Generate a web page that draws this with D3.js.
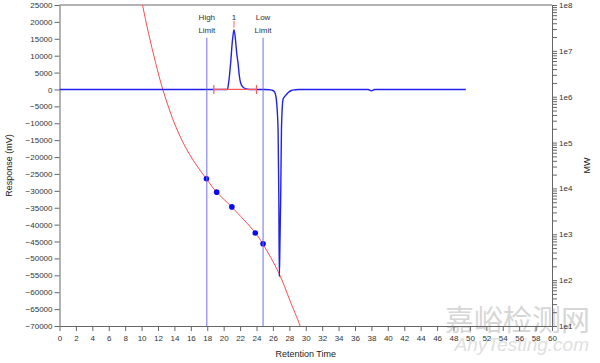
<!DOCTYPE html>
<html>
<head>
<meta charset="utf-8">
<script src="https://cdn.jsdelivr.net/npm/d3@7"></script>
<style>
  body { margin: 0; background: #fff; }
  svg { display: block; font-family: "Liberation Sans", Arial, sans-serif; }
  .axis text { fill: #333; font-size: 8px; }
  .axis path, .axis line { stroke: #666; }
</style>
</head>
<body>
<div id="svg-container"></div>
<script>
////////////////////////////////////////////////////////////////////
//////////////////////////////  Data  ///////////////////////////////
const xTickValues = [0, 2, 4, 6, 8, 10, 12, 14, 16, 18, 20, 22, 24, 26, 28, 30,
  32, 34, 36, 38, 40, 42, 44, 46, 48, 50, 52, 54, 56, 58, 60];
const yTickValues = [25000, 20000, 15000, 10000, 5000, 0, -5000, -10000, -15000,
  -20000, -25000, -30000, -35000, -40000, -45000, -50000, -55000, -60000, -65000, -70000];

// chromatogram (retention time, mV)
const traceTime = [0, 18.8, 20.45, 20.6, 20.85, 21.05, 21.26, 21.45, 21.6, 21.75, 21.9, 22.07,
  22.35, 22.77, 23.5, 25.0, 25.6, 26.0, 26.2, 26.42, 26.63, 26.72, 26.78, 26.86, 26.95, 27.04,
  27.23, 27.4, 27.64, 27.9, 28.25, 28.7, 29.2, 37.6, 38.0, 38.4, 49.5];
const traceResp = [0, 0, 0, 1900, 7850, 14000, 17700, 14500, 10500, 7850, 4200, 1900,
  700, 150, 0, 0, -100, -300, -700, -3000, -11900, -31700, -55400, -45000, -31700, -11900,
  -3000, -2200, -1500, -800, -300, -100, 0, 0, -400, 0, 0];

// calibration curve (retention time, MW)
const calTime = [9.6, 10.09, 10.85, 11.71, 12.6, 14.23, 15.85, 17.89, 19.15, 20.98, 23.87,
  24.76, 26.74, 28.05, 29.27, 29.6];
const calMW = [2.9e8, 1.05e8, 2.4e7, 5.5e6, 1.41e6, 2.09e5, 5.5e4, 1.62e4, 8300, 3940, 1070,
  620, 141, 37, 10.5, 6.9];

// calibration standards
const stdTime = [17.9, 19.15, 21.0, 23.85, 24.8];
const stdMW = [16200, 8300, 3960, 1070, 620];

// limits and peak
const limitTime = [17.95, 24.8];
const limitLabel = [["High", "Limit"], ["Low", "Limit"]];
const peakTime = 21.26, peakResp = 17700, peakLabel = "1";
const baselineTime = [18.8, 24.0];

////////////////////////////////////////////////////////////////////
//////////////////////////////  Init  ///////////////////////////////
const width = 600, height = 363;
const margin = { top: 5, right: 48, bottom: 37, left: 59.5 };

const svg = d3.select("#svg-container").append("svg")
  .attr("width", width).attr("height", height);

const xScale = d3.scaleLinear().domain([0, 60]).range([margin.left, width - margin.right]);
const yScale = d3.scaleLinear().domain([-70000, 25000]).range([height - margin.bottom, margin.top]);
const mwScale = d3.scaleLog().domain([10, 1e8]).range([height - margin.bottom, margin.top]);

svg.append("clipPath").attr("id", "plot-clip")
  .append("rect")
  .attr("x", margin.left).attr("y", margin.top)
  .attr("width", xScale(60) - margin.left)
  .attr("height", yScale(-70000) - margin.top);

// watermark
svg.append("text")
  .attr("x", 590).attr("y", 331)
  .attr("text-anchor", "end")
  .attr("fill", "#d6d6d6")
  .attr("font-family", "Noto Sans CJK SC")
  .attr("font-size", 29)
  .text("嘉峪检测网");
svg.append("text")
  .attr("x", 589).attr("y", 351)
  .attr("text-anchor", "end")
  .attr("fill", "#e0e0e0")
  .attr("font-style", "italic")
  .attr("font-size", 19)
  .text("AnyTesting.com");

// top border
svg.append("line")
  .attr("x1", xScale(0)).attr("x2", xScale(60))
  .attr("y1", yScale(25000)).attr("y2", yScale(25000))
  .attr("stroke", "#666");

// axes
svg.append("g").attr("class", "axis")
  .attr("transform", `translate(0,${yScale(-70000)})`)
  .call(d3.axisBottom(xScale).tickValues(xTickValues).tickSize(5).tickPadding(4).tickSizeOuter(0));

svg.append("g").attr("class", "axis")
  .attr("transform", `translate(${xScale(0)},0)`)
  .call(d3.axisLeft(yScale).tickValues(yTickValues).tickFormat(d3.format("d"))
    .tickSize(5).tickPadding(2).tickSizeOuter(0));

const mwFormat = (d) => {
  const e = Math.log10(d);
  return Math.abs(e - Math.round(e)) < 1e-9 ? "1e" + Math.round(e) : "";
};
svg.append("g").attr("class", "axis")
  .attr("transform", `translate(${xScale(60)},0)`)
  .call(d3.axisRight(mwScale).tickFormat(mwFormat).tickSize(5).tickPadding(2).tickSizeOuter(0))
  .selectAll("text").attr("font-size", 7);

// axis titles
svg.append("text")
  .attr("transform", `translate(12,${(yScale(25000) + yScale(-70000)) / 2}) rotate(-90)`)
  .attr("text-anchor", "middle").attr("font-size", 9).attr("fill", "#222")
  .text("Response (mV)");
svg.append("text")
  .attr("x", (xScale(0) + xScale(60)) / 2).attr("y", 357)
  .attr("text-anchor", "middle").attr("font-size", 9).attr("fill", "#222")
  .text("Retention Time");
svg.append("text")
  .attr("transform", `translate(590,${(mwScale(1e8) + mwScale(10)) / 2}) rotate(-90)`)
  .attr("text-anchor", "middle").attr("font-size", 9).attr("fill", "#222")
  .text("MW");

////////////////////////////////////////////////////////////////////
//////////////////////////////  Marks  //////////////////////////////
const plot = svg.append("g").attr("clip-path", "url(#plot-clip)");

// limit lines
limitTime.forEach((t, i) => {
  svg.append("line")
    .attr("x1", xScale(t)).attr("x2", xScale(t))
    .attr("y1", yScale(15300)).attr("y2", yScale(-70000))
    .attr("stroke", "#6f6ff2").attr("stroke-width", 1);
  limitLabel[i].forEach((s, j) => {
    svg.append("text")
      .attr("x", xScale(t)).attr("y", 20 + j * 12.5)
      .attr("text-anchor", "middle").attr("font-size", 8).attr("fill", "#333")
      .text(s);
  });
});

// calibration curve
const calData = calTime.map((t, i) => ({ t, mw: calMW[i] }));
plot.append("path")
  .datum(calData)
  .attr("fill", "none")
  .attr("stroke", "#ff4a4a")
  .attr("stroke-width", 1)
  .attr("d", d3.line().x((d) => xScale(d.t)).y((d) => mwScale(d.mw)).curve(d3.curveCatmullRom.alpha(0.5)));

// chromatogram
const traceData = traceTime.map((t, i) => ({ t, r: traceResp[i] }));
plot.append("path")
  .datum(traceData)
  .attr("fill", "none")
  .attr("stroke", "#2020f0")
  .attr("stroke-width", 1.4)
  .attr("d", d3.line().x((d) => xScale(d.t)).y((d) => yScale(d.r)).curve(d3.curveMonotoneX));

// integration baseline
plot.append("line")
  .attr("x1", xScale(baselineTime[0])).attr("x2", xScale(baselineTime[1]))
  .attr("y1", yScale(0)).attr("y2", yScale(0))
  .attr("stroke", "#ff5a5a").attr("stroke-width", 1.2);
baselineTime.forEach((t) => {
  plot.append("line")
    .attr("x1", xScale(t)).attr("x2", xScale(t))
    .attr("y1", yScale(0) - 4.5).attr("y2", yScale(0) + 4.5)
    .attr("stroke", "#ff5a5a").attr("stroke-width", 1.2);
});

// peak marker
svg.append("line")
  .attr("x1", xScale(peakTime)).attr("x2", xScale(peakTime))
  .attr("y1", yScale(peakResp) - 9).attr("y2", yScale(peakResp) - 2)
  .attr("stroke", "#ff9a9a").attr("stroke-width", 1.5);
svg.append("text")
  .attr("x", xScale(peakTime)).attr("y", yScale(peakResp) - 10)
  .attr("text-anchor", "middle").attr("font-size", 8).attr("fill", "#333")
  .text(peakLabel);

// standards
plot.selectAll("circle.std")
  .data(stdTime.map((t, i) => ({ t, mw: stdMW[i] })))
  .enter().append("circle")
  .attr("class", "std")
  .attr("cx", (d) => xScale(d.t))
  .attr("cy", (d) => mwScale(d.mw))
  .attr("r", 2.8)
  .attr("fill", "#0a0af0");
</script>
</body>
</html>
